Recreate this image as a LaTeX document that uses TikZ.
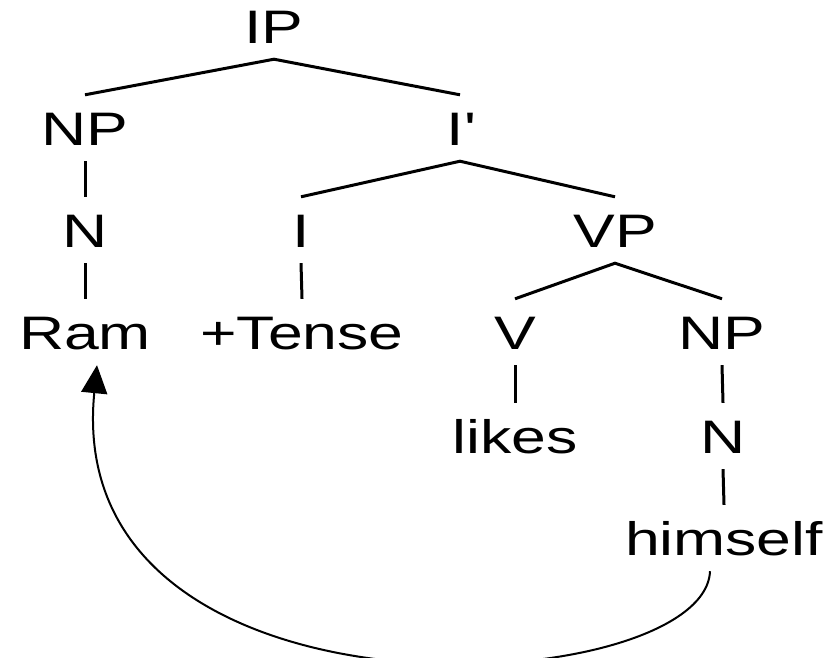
\documentclass[tikz,border=0pt]{standalone}
\usepackage{fontspec}
\setmainfont[FakeStretch=1.33]{Liberation Sans}
\usetikzlibrary{arrows.meta}

\begin{document}
\begin{tikzpicture}[x=1pt,y=-1pt,
  lbl/.style={anchor=base, inner xsep=0pt, inner ysep=16pt,
              text height=34pt, text depth=0pt,
              font=\fontsize{47}{56}\selectfont},
  branch/.style={line width=3pt},
  bind/.style={line width=2pt, -{Triangle[length=28pt,width=26pt]}}
]
\useasboundingbox (0,0) rectangle (834,657);

% constituents (x = centre, y = baseline)
\node[lbl] (ip)      at (274,43)  {IP};
\node[lbl] (np1)     at (85,145)  {NP};
\node[lbl] (ibar)    at (460,145) {I\textquotesingle};
\node[lbl] (n1)      at (85,247)  {N};
\node[lbl] (infl)    at (301,247) {I};
\node[lbl] (vp)      at (615,247) {VP};
\node[lbl] (ram)     at (85,349)  {Ram};
\node[lbl] (tense)   at (302,349) {+Tense};
\node[lbl] (v)       at (515,349) {V};
\node[lbl] (np2)     at (722,349) {NP};
\node[lbl] (likes)   at (515,453) {likes};
\node[lbl] (n2)      at (723,453) {N};
\node[lbl] (himself) at (724,555) {himself};

% tree branches
\draw[branch] (np1.north) -- (ip.south) -- (ibar.north);
\draw[branch] (infl.north) -- (ibar.south) -- (vp.north);
\draw[branch] (v.north) -- (vp.south) -- (np2.north);
\draw[branch] (np1.south) -- (n1.north);
\draw[branch] (n1.south) -- (ram.north);
\draw[branch] (infl.south) -- (tense.north);
\draw[branch] (v.south) -- (likes.north);
\draw[branch] (np2.south) -- (n2.north);
\draw[branch] (n2.south) -- (himself.north);

% binding arrow from the anaphor back to its antecedent
\draw[bind] ([xshift=-14pt]himself.south)
  .. controls (705,700) and (60,740) .. ([xshift=12pt]ram.south);
\end{tikzpicture}
\end{document}
